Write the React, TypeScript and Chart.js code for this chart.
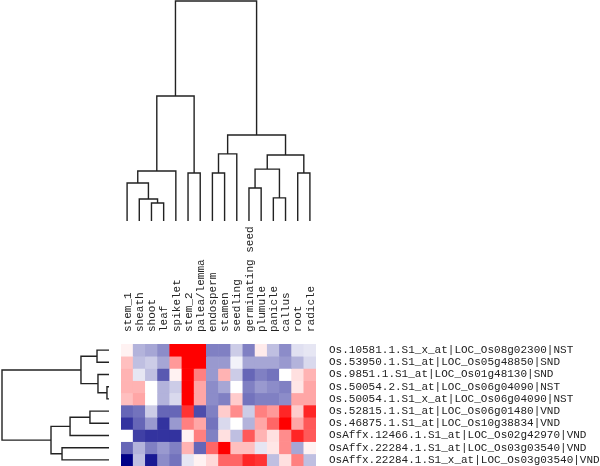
import React, { useEffect, useRef } from "react";
import { Chart, registerables } from "chart.js";

Chart.register(...registerables);

const columnLabels = [
  "stem_1", "sheath", "shoot", "leaf", "spikelet", "stem_2", "palea/lemma", "endosperm",
  "stamen", "seedling", "germinating seed", "plumule", "panicle", "callus", "root", "radicle",
];

const rowLabels = [
  "Os.10581.1.S1_x_at|LOC_Os08g02300|NST",
  "Os.53950.1.S1_at|LOC_Os05g48850|SND",
  "Os.9851.1.S1_at|LOC_Os01g48130|SND",
  "Os.50054.2.S1_at|LOC_Os06g04090|NST",
  "Os.50054.1.S1_x_at|LOC_Os06g04090|NST",
  "Os.52815.1.S1_at|LOC_Os06g01480|VND",
  "Os.46875.1.S1_at|LOC_Os10g38834|VND",
  "OsAffx.12466.1.S1_at|LOC_Os02g42970|VND",
  "OsAffx.22284.1.S1_at|LOC_Os03g03540|VND",
  "OsAffx.22284.1.S1_x_at|LOC_Os03g03540|VND",
];

// scaled expression, -1 (blue) .. 0 (white) .. +1 (red); one row per probe, one value per tissue
const expression = [
  [0.05, -0.3, -0.35, -0.45, 1, 1, 1, -0.5, -0.5, -0.2, -0.5, 0.08, -0.25, -0.45, -0.12, -0.1],
  [0.25, -0.25, -0.2, -0.35, 0.4, 1, 1, -0.4, -0.4, -0.05, -0.35, -0.35, -0.35, -0.4, -0.3, -0.15],
  [0.3, -0.1, -0.25, -0.65, 0.05, 1, 0.5, -0.4, 0.3, -0.2, -0.6, -0.5, -0.55, 0.0, 0.12, 0.3],
  [0.3, 0.3, 0.0, -0.3, -0.2, 1, 0.35, -0.45, -0.35, 0.0, -0.5, -0.4, -0.45, -0.5, 0.1, 0.35],
  [0.25, 0.35, 0.0, -0.3, -0.15, 1, 0.35, -0.45, -0.5, 0.2, -0.55, -0.5, -0.5, -0.45, 0.35, 0.35],
  [-0.6, -0.55, -0.2, -0.6, -0.6, 0.8, -0.7, -0.5, 0.2, 0.45, -0.2, 0.5, 0.4, 0.85, 0.2, 0.85],
  [-0.8, -0.6, -0.4, -0.8, -0.4, 0.5, 0.35, -0.55, -0.15, 0.0, -0.3, 0.35, 0.6, 1, 0.35, 0.65],
  [0.0, -0.75, -0.8, -0.8, -0.8, 0.05, 0.5, -0.5, 0.12, -0.25, 0.65, 0.3, 0.12, 0.45, 0.85, 0.65],
  [-0.6, -0.3, -0.5, -0.4, -0.5, 0.3, -0.6, 0.6, 1, 0.25, 0.25, -0.1, 0.1, 0.45, -0.35, 0.05],
  [-1, -0.25, -0.9, -0.45, -0.55, -0.1, 0.05, 0.15, 0.6, 0.6, 0.85, 0.8, -0.25, 0.12, 0.5, -0.25],
];

// linkage rows: [nodeA, nodeB, height]; ids < n are leaves (display order), id n+k is row k
const columnMerges: [number, number, number][] = [
  [2, 3, 8.2],
  [1, 16, 10.0],
  [0, 17, 17.3],
  [18, 4, 22.7],
  [5, 6, 21.8],
  [19, 20, 56.8],
  [7, 8, 21.8],
  [22, 9, 30.5],
  [10, 11, 15.0],
  [12, 13, 10.5],
  [24, 25, 23.6],
  [14, 15, 21.8],
  [26, 27, 30.0],
  [23, 28, 39.1],
  [21, 29, 100],
];

const rowMerges: [number, number, number][] = [
  [3, 4, 1.9],
  [0, 1, 11.2],
  [2, 10, 10.3],
  [11, 12, 26.2],
  [5, 6, 17.8],
  [14, 7, 36.4],
  [8, 9, 43.9],
  [15, 16, 54.2],
  [13, 17, 100],
];

function valueColor(v: number): string {
  if (v >= 0) {
    const c = Math.round(255 * (1 - v));
    return `rgb(255,${c},${c})`;
  }
  const t = -v;
  const c = Math.round(255 * (1 - t));
  const b = Math.round(255 * (1 - t) + 135 * t);
  return `rgb(${c},${c},${b})`;
}

function brackets(merges: [number, number, number][], n: number) {
  const pos: number[] = [];
  const hgt: number[] = [];
  for (let i = 0; i < n; i++) {
    pos[i] = i;
    hgt[i] = 0;
  }
  return merges.map(([a, b, h], k) => {
    const id = n + k;
    pos[id] = (pos[a] + pos[b]) / 2;
    hgt[id] = h;
    return [
      [pos[a], hgt[a]],
      [pos[a], h],
      [pos[b], h],
      [pos[b], hgt[b]],
    ];
  });
}

const LINE_COLOR = "#222";
const LINE_WIDTH = 1.4;
const labelFont = { family: '"Liberation Mono", "Courier New", monospace', size: 11 };
const TEXT_COLOR = "#222";

export default function App() {
  const heatRef = useRef<HTMLCanvasElement>(null);
  const topRef = useRef<HTMLCanvasElement>(null);
  const leftRef = useRef<HTMLCanvasElement>(null);

  useEffect(() => {
    const charts: Chart[] = [];
    const common = {
      responsive: false,
      animation: false as const,
      devicePixelRatio: 1,
      events: [] as any[],
      plugins: { legend: { display: false }, tooltip: { enabled: false } },
    };

    charts.push(
      new Chart(heatRef.current!, {
        type: "bar",
        data: {
          labels: columnLabels,
          datasets: expression.map((row, j) => ({
            data: row.map(() => [j, j + 1]),
            backgroundColor: row.map(valueColor),
            borderWidth: 0,
            grouped: false,
            barPercentage: 1,
            categoryPercentage: 1,
            xAxisID: "x",
            yAxisID: "y",
          })) as any,
        },
        options: {
          ...common,
          layout: { padding: 0 },
          scales: {
            x: {
              type: "category",
              position: "top",
              offset: true,
              grid: { display: false, drawTicks: false },
              border: { display: false },
              ticks: {
                autoSkip: false,
                minRotation: 90,
                maxRotation: 90,
                padding: 12,
                labelOffset: 14,
                font: labelFont,
                color: TEXT_COLOR,
              },
              afterFit: (s: any) => {
                s.height = 122;
                s.paddingLeft = 0;
                s.paddingRight = 0;
                s.paddingTop = 0;
                s.paddingBottom = 0;
              },
            },
            y: { type: "linear", display: false, min: 0, max: 10, reverse: true },
            yl: {
              type: "category",
              position: "right",
              labels: rowLabels,
              offset: true,
              grid: { display: false, drawTicks: false },
              border: { display: false },
              ticks: { autoSkip: false, padding: 13, font: labelFont, color: TEXT_COLOR },
              afterFit: (s: any) => {
                s.width = 284;
                s.paddingLeft = 0;
                s.paddingRight = 0;
                s.paddingTop = 0;
                s.paddingBottom = 0;
              },
            },
          } as any,
        },
      })
    );

    charts.push(
      new Chart(topRef.current!, {
        type: "scatter",
        data: {
          datasets: brackets(columnMerges, columnLabels.length).map((pts) => ({
            data: pts.map(([p, h]) => ({ x: p, y: h })),
            showLine: true,
            pointRadius: 0,
            borderColor: LINE_COLOR,
            borderWidth: LINE_WIDTH,
            tension: 0,
            clip: false as any,
          })),
        },
        options: {
          ...common,
          layout: { padding: { top: 1, bottom: 1, left: 0, right: 0 } },
          scales: {
            x: { type: "linear", display: false, min: -0.5, max: columnLabels.length - 0.5 },
            y: { type: "linear", display: false, min: 0, max: 100 },
          },
        },
      })
    );

    charts.push(
      new Chart(leftRef.current!, {
        type: "scatter",
        data: {
          datasets: brackets(rowMerges, rowLabels.length).map((pts) => ({
            data: pts.map(([p, h]) => ({ x: h, y: p })),
            showLine: true,
            pointRadius: 0,
            borderColor: LINE_COLOR,
            borderWidth: LINE_WIDTH,
            tension: 0,
            clip: false as any,
          })),
        },
        options: {
          ...common,
          layout: { padding: { top: 0, bottom: 0, left: 2, right: 1 } },
          scales: {
            x: { type: "linear", display: false, min: 0, max: 100, reverse: true },
            y: { type: "linear", display: false, min: -0.5, max: rowLabels.length - 0.5, reverse: true },
          },
        },
      })
    );

    return () => charts.forEach((c) => c.destroy());
  }, []);

  return (
    <div style={{ position: "absolute", left: 0, top: 0, width: 600, height: 466, overflow: "hidden", background: "#fff" }}>
      <canvas ref={topRef} width={195} height={222} style={{ position: "absolute", left: 121, top: 0 }} />
      <canvas ref={leftRef} width={110} height={122} style={{ position: "absolute", left: 0, top: 344 }} />
      <canvas ref={heatRef} width={479} height={244} style={{ position: "absolute", left: 121, top: 222 }} />
    </div>
  );
}
